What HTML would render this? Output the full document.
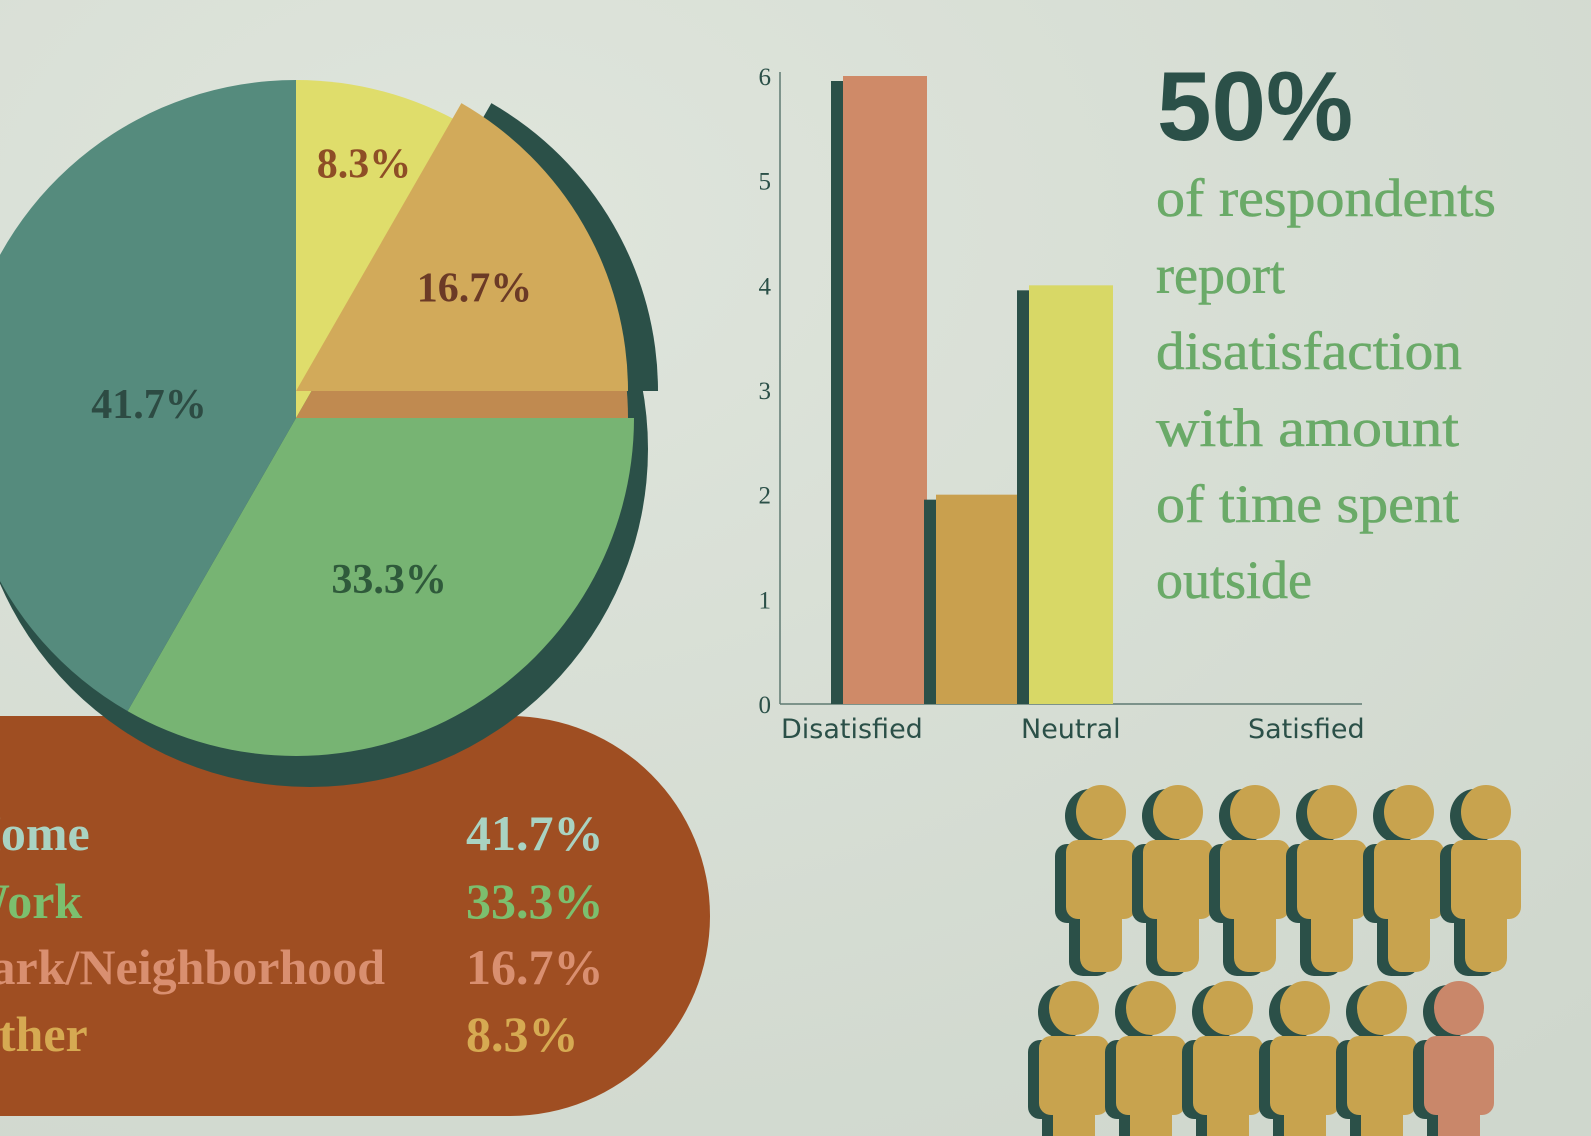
<!DOCTYPE html>
<html><head><meta charset="utf-8"><style>
html,body{margin:0;padding:0;}
body{width:1591px;height:1136px;overflow:hidden;background:#d6ddd3;}
svg{display:block}
</style></head><body>
<svg width="1591" height="1136" viewBox="0 0 1591 1136">
<defs>
<radialGradient id="bg" cx="0.3" cy="0.2" r="1"><stop offset="0" stop-color="#dfe5dc"/><stop offset="1" stop-color="#cfd7cd"/></radialGradient>
<clipPath id="frame"><rect width="1591" height="1136"/></clipPath>
</defs>
<g clip-path="url(#frame)">
<rect width="1591" height="1136" fill="url(#bg)"/>

<path d="M-20 716 H510 A200 200 0 0 1 510 1116 H-20 Z" fill="#9f4e22"/>
<g id="pie"></g>

<g font-family="'Liberation Serif',serif" font-weight="bold" font-size="50">
<text x="-38" y="850" fill="#a9d3c2">Home</text>
<text x="466" y="850" fill="#a9d3c2">41.7%</text>
<text x="-40" y="918" fill="#7cbf6e">Work</text>
<text x="466" y="918" fill="#7cbf6e">33.3%</text>
<text x="-40" y="984" fill="#d98f70">Park/Neighborhood</text>
<text x="466" y="984" fill="#d98f70">16.7%</text>
<text x="-40" y="1051" fill="#d6aa52">Other</text>
<text x="466" y="1051" fill="#d6aa52">8.3%</text>
</g>

<g id="bars"></g>

<g>
<text x="1157" y="140" font-family="'Liberation Sans',sans-serif" font-weight="bold" font-size="98" fill="#2b5048">50%</text>
<g font-family="'Liberation Serif',serif" font-size="54" fill="#6aaa68" stroke="#6aaa68" stroke-width="0.6">
<text x="1156" y="216" textLength="340" lengthAdjust="spacingAndGlyphs">of respondents</text>
<text x="1156" y="293">report</text>
<text x="1156" y="369" textLength="306" lengthAdjust="spacingAndGlyphs">disatisfaction</text>
<text x="1156" y="446" textLength="303" lengthAdjust="spacingAndGlyphs">with amount</text>
<text x="1156" y="522" textLength="303" lengthAdjust="spacingAndGlyphs">of time spent</text>
<text x="1156" y="598">outside</text>
</g>
</g>

<g id="people"></g>
</g>
</svg>
<script>
const NS='http://www.w3.org/2000/svg';
function mk(tag,attrs,parent){const e=document.createElementNS(NS,tag);for(const k in attrs)e.setAttribute(k,attrs[k]);parent.appendChild(e);return e;}

// ---- pie data ----
const pieLabels=['Other','Park/Neighborhood','Work','Home'];
const pieValues=[8.3,16.7,33.3,41.7];
const pieColors=['#dfdd6b','#d2aa5a','#77b473','#558b7d'];
const pieTextColors=['#8e4e26','#6b3a26','#2f5a3b','#2d4b43'];
const labelR=[0.78,0.61,0.55,0.45];
const labelDy=[0,0,0,25];
const cx=296,cy=418,R=338,explodeIdx=1,lift=27;
const pie=document.getElementById('pie');
function pt(a,r,ox,oy){return [ox+r*Math.sin(a),oy-r*Math.cos(a)];}
function wedge(a0,a1,r,ox,oy){const p0=pt(a0,r,ox,oy),p1=pt(a1,r,ox,oy);const lg=(a1-a0)>Math.PI?1:0;return `M${ox} ${oy} L${p0[0]} ${p0[1]} A${r} ${r} 0 ${lg} 1 ${p1[0]} ${p1[1]} Z`;}
const total=pieValues.reduce((a,b)=>a+b,0);
let ang=[0];pieValues.forEach(v=>ang.push(ang[ang.length-1]+v/total*2*Math.PI));
let c=mk('circle',{cx:cx+14,cy:cy+31,r:R,fill:'#2b5048'},pie);


let ws=mk('path',{d:wedge(ang[explodeIdx],ang[explodeIdx+1],R-6,cx+30,cy-lift),fill:'#2b5048'},pie);


let side=mk('path',{d:wedge(ang[explodeIdx],ang[explodeIdx+1],R-6,cx,cy),fill:'#c08a50'},pie);


pieValues.forEach((v,i)=>{
  const oy=i===explodeIdx?cy-lift:cy, r=i===explodeIdx?R-6:R;
  const p=mk('path',{d:wedge(ang[i],ang[i+1],r,cx,oy),fill:pieColors[i]},pie);
  
  
});
pieValues.forEach((v,i)=>{
  const oy=i===explodeIdx?cy-lift:cy;
  const mid=(ang[i]+ang[i+1])/2;
  const p=pt(mid,R*labelR[i],cx,oy);
  const t=mk('text',{x:p[0],y:p[1]+14+labelDy[i],'text-anchor':'middle','font-family':"'Liberation Serif',serif",'font-weight':'bold','font-size':'42',fill:pieTextColors[i]},pie);
  t.textContent=v.toFixed(1)+'%';
  
  
});

// ---- bar data ----
const barCategories=['Disatisfied','Neutral','Satisfied'];
const barValues=[6,2,4];
const barColors=['#cf8a68','#c9a04e','#d8d866'];
const yTicks=[0,1,2,3,4,5,6];
const bars=document.getElementById('bars');
const y0=704,yTop=76,axisX=780,axisR=1362;
function yS(v){return y0-(y0-yTop)*v/6;}
function xS(i){return 843+i*93;}
let ax=mk('line',{x1:axisX,y1:yTop-4,x2:axisX,y2:y0,stroke:'#5f7a72','stroke-width':1.5},bars);


let bx=mk('line',{x1:axisX,y1:y0,x2:axisR,y2:y0,stroke:'#5f7a72','stroke-width':1.5},bars);


yTicks.forEach(v=>{
  const t=mk('text',{x:771,y:yS(v)+9,'text-anchor':'end','font-family':"'Liberation Serif',serif",'font-size':'25',fill:'#2b5048'},bars);
  t.textContent=v;
  
  
});
barValues.forEach((v,i)=>{
  const s=mk('rect',{x:xS(i)-12,y:yS(v)+5,width:12,height:y0-yS(v)-5,fill:'#2b5048'},bars);
  
  
  const b=mk('rect',{x:xS(i),y:yS(v),width:84,height:y0-yS(v),fill:barColors[i]},bars);
  
  
});
const xLabelPos=[781,1021,1248];
barCategories.forEach((c,i)=>{
  const t=mk('text',{x:xLabelPos[i],y:738,'font-family':"'DejaVu Sans','Liberation Sans',sans-serif",'font-size':'27',fill:'#2b5048'},bars);
  t.textContent=c;
  
  
});

// ---- people ----
const peopleRows=[6,6];
const peopleHighlighted=[0,1];
const people=document.getElementById('people');
function person(x,y,fill){
  const g=mk('g',{},people);
  const shape=(dx,dy,col)=>{
    mk('ellipse',{cx:x+dx,cy:y+dy,rx:25,ry:27,fill:col},g);
    mk('rect',{x:x-35+dx,y:y+28+dy,width:70,height:79,rx:12,fill:col},g);
    mk('rect',{x:x-21+dx,y:y+60+dy,width:42,height:100,rx:14,fill:col},g);
  };
  shape(-11,4,'#2b5048');
  shape(0,0,fill);
  return g;
}
peopleRows.forEach((n,r)=>{
  for(let k=0;k<n;k++){
    const hl=k>=n-peopleHighlighted[r];
    const g=person(1101-r*27+k*77,812+r*196,hl?'#c9876a':'#c8a34e');
    
    
  }
});
</script>
</body></html>
